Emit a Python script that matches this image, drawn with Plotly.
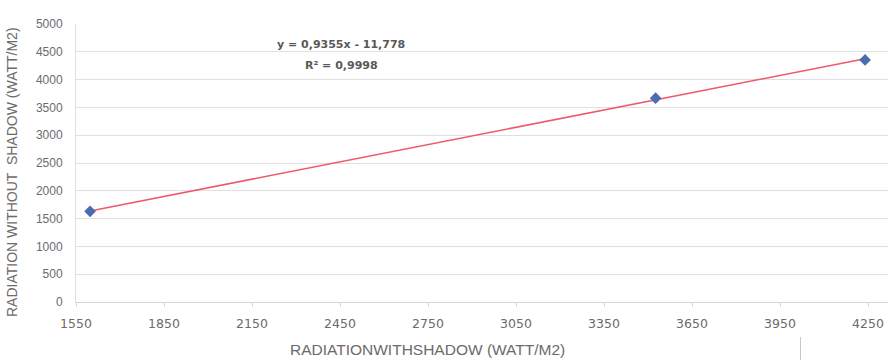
import numpy as np
import plotly.graph_objects as go

# Data
radiation_with_shadow = [1598, 3526, 4240]
radiation_without_shadow = [1630, 3666, 4354]
x_tick_values = [1550, 1850, 2150, 2450, 2750, 3050, 3350, 3650, 3950, 4250]
y_tick_values = [0, 500, 1000, 1500, 2000, 2500, 3000, 3500, 4000, 4500, 5000]
equation_text = "y = 0,9355x - 11,778"
r2_text = "R² = 0,9998"
x_title = "RADIATIONWITHSHADOW (WATT/M2)"
y_title = "RADIATION WITHOUT  SHADOW (WATT/M2)"

# Linear trendline over data range
slope, intercept = np.polyfit(radiation_with_shadow, radiation_without_shadow, 1)
trend_x = [min(radiation_with_shadow), max(radiation_with_shadow)]
trend_y = [slope * v + intercept for v in trend_x]

W, H = 888, 360
ml, mr, mt, mb = 76, 0, 24, 58
plot_w = W - ml - mr
plot_h = H - mt - mb
x_min = 1550
x_max = x_min + plot_w / 88 * 300

fig = go.Figure()
fig.add_trace(go.Scatter(
    x=trend_x, y=trend_y, mode="lines",
    line=dict(color="#ee5a6a", width=1.6), hoverinfo="skip", showlegend=False))
fig.add_trace(go.Scatter(
    x=radiation_with_shadow, y=radiation_without_shadow, mode="markers",
    marker=dict(symbol="diamond", size=9, color="#4a6cb0"), showlegend=False))

grey = "#6b6b6b"
fig.update_layout(
    width=W, height=H,
    margin=dict(l=ml, r=mr, t=mt, b=mb, autoexpand=False),
    paper_bgcolor="white", plot_bgcolor="white",
    font=dict(family="Liberation Sans, Arial, sans-serif", color=grey),
    xaxis=dict(
        range=[x_min, x_max], tickmode="array", tickvals=x_tick_values,
        ticktext=[str(v) for v in x_tick_values],
        showgrid=False, zeroline=False,
        showline=True, linecolor="#d6d6d6", linewidth=1,
        ticks="outside", ticklen=4, tickcolor="#d6d6d6",
        tickfont=dict(family="DejaVu Sans, sans-serif", size=12.5, color=grey),
        ticklabelstandoff=6,
    ),
    yaxis=dict(
        range=[0, 5000], tickmode="array", tickvals=y_tick_values,
        showgrid=True, gridcolor="#e0e0e0", gridwidth=1, zeroline=False,
        showline=True, linecolor="#e0e0e0", linewidth=1,
        tickfont=dict(size=12, color=grey),
        ticklabelstandoff=10,
    ),
    annotations=[
        dict(text="<b>" + equation_text + "</b>", xref="paper", yref="paper",
             x=(341 - ml) / plot_w, y=1 - (45 - mt) / plot_h,
             showarrow=False,
             font=dict(family="DejaVu Sans, sans-serif", size=11, color="#595959"),
             xanchor="center", yanchor="middle"),
        dict(text="<b>" + r2_text + "</b>", xref="paper", yref="paper",
             x=(341 - ml) / plot_w, y=1 - (66 - mt) / plot_h,
             showarrow=False,
             font=dict(family="DejaVu Sans, sans-serif", size=11, color="#595959"),
             xanchor="center", yanchor="middle"),
        dict(text=x_title, xref="paper", yref="paper",
             x=(427 - ml) / plot_w, y=-(349 - (H - mb)) / plot_h,
             showarrow=False,
             font=dict(family="Liberation Sans, sans-serif", size=15.5, color=grey),
             xanchor="center", yanchor="middle"),
        dict(text=y_title, xref="paper", yref="paper", textangle=-90,
             x=(12 - ml) / plot_w, y=1 - (172 - mt) / plot_h,
             showarrow=False, font=dict(size=14, color=grey),
             xanchor="center", yanchor="middle"),
    ],
    shapes=[
        dict(type="line", xref="paper", yref="paper",
             x0=(800.5 - ml) / plot_w, x1=(800.5 - ml) / plot_w,
             y0=-(337 - (H - mb)) / plot_h, y1=-(360 - (H - mb)) / plot_h,
             line=dict(color="#c8c8c8", width=1)),
    ],
)

fig.write_html(
    "out.html",
    config={"displayModeBar": False},
    post_script="document.body.style.margin='0';document.body.style.overflow='hidden';",
)
